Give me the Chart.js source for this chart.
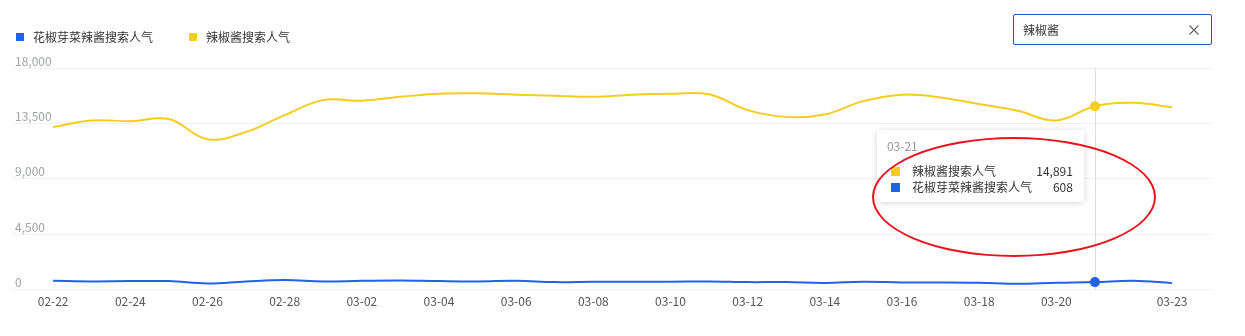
<!DOCTYPE html>
<html>
<head>
<meta charset="utf-8">
<script src="https://cdn.jsdelivr.net/npm/chart.js@4.4.0/dist/chart.umd.min.js"></script>
<style>
  body { margin: 0; background: #fff; font-family: "Microsoft YaHei", "Noto Sans CJK SC", sans-serif; }
  #wrap { position: relative; width: 1245px; height: 336px; overflow: hidden; }
  #trendChart { position: absolute; left: 0; top: 0; }
  .lg { position: absolute; top: 28px; height: 18px; line-height: 18px; font-size: 12px; color: #333; white-space: nowrap; }
  .lg i { position: absolute; left: 0; top: 5px; width: 8px; height: 8px; }
  .lg span { position: absolute; left: 17px; top: 0; }
  .search { position: absolute; left: 1013px; top: 14px; width: 197px; height: 29px; border: 1px solid #2452c8; border-radius: 2px; }
  .search span { position: absolute; left: 9px; top: 6px; font-size: 12px; line-height: 18px; color: #333; }
  .search svg { position: absolute; right: 12px; top: 10px; }
  #tip { position: absolute; display: none; box-sizing: border-box; width: 207px; padding: 8px 11px 7px 10px;
         background: #fff; border-radius: 3px; box-shadow: 0 1px 7px rgba(0, 0, 0, 0.16); font-size: 12px; }
  #tip .tt-title { color: #999; line-height: 16px; margin-bottom: 9px; }
  #tip .tt-row { position: relative; height: 16px; line-height: 16px; color: #333; }
  #tip .tt-row i { position: absolute; left: 4px; top: 4px; width: 9px; height: 9px; }
  #tip .tt-row .tt-name { position: absolute; left: 25px; }
  #tip .tt-row .tt-val { position: absolute; right: 0; }
  #mark { position: absolute; display: none; box-sizing: border-box; width: 284px; height: 120px;
          border: 2px solid #e8141c; border-radius: 50%; pointer-events: none; }
</style>
</head>
<body>
<div id="wrap">
  <canvas id="trendChart" width="1245" height="336"></canvas>
  <div class="lg" style="left:16px"><i style="background:#2162e6"></i><span>花椒芽菜辣酱搜索人气</span></div>
  <div class="lg" style="left:189px"><i style="background:#f5cd1f"></i><span>辣椒酱搜索人气</span></div>
  <div class="search">
    <span>辣椒酱</span>
    <svg width="10" height="10" viewBox="0 0 10 10"><path d="M0.5 0.5 L9.5 9.5 M9.5 0.5 L0.5 9.5" stroke="#666" stroke-width="1.2" fill="none"/></svg>
  </div>
  <div id="tip"></div>
  <div id="mark"></div>
</div>
<script>
var dates = ["02-22", "02-23", "02-24", "02-25", "02-26", "02-27", "02-28", "03-01", "03-02", "03-03",
  "03-04", "03-05", "03-06", "03-07", "03-08", "03-09", "03-10", "03-11", "03-12", "03-13",
  "03-14", "03-15", "03-16", "03-17", "03-18", "03-19", "03-20", "03-21", "03-22", "03-23"];
var shownTicks = ["02-22", "02-24", "02-26", "02-28", "03-02", "03-04", "03-06", "03-08",
  "03-10", "03-12", "03-14", "03-16", "03-18", "03-20", "03-23"];

// 花椒芽菜辣酱搜索人气
var huajiaoValues = [717, 663, 690, 690, 499, 663, 772, 663, 717, 745,
  690, 663, 717, 608, 635, 635, 635, 663, 608, 608,
  540, 635, 580, 580, 553, 472, 553, 608, 717, 526];
// 辣椒酱搜索人气
var lajiaoValues = [13200, 13740, 13680, 13850, 12220, 12810, 14170, 15390, 15340, 15660,
  15910, 15940, 15830, 15740, 15660, 15830, 15910, 15860, 14580, 14030,
  14230, 15310, 15830, 15610, 15070, 14520, 13740, 14891, 15170, 14820];

var seriesNames = ["花椒芽菜辣酱搜索人气", "辣椒酱搜索人气"];
var seriesColors = ["#2162e6", "#f5cd1f"];
var yTicks = [0, 4500, 9000, 13500, 18000];
var activeDate = "03-21";

function toPoints(values) {
  return values.map(function(v, i) { return { x: i, y: v }; });
}

// vertical hover line behind the points
var hoverLine = {
  id: "hoverLine",
  beforeDatasetsDraw: function(chart) {
    var active = chart.getActiveElements();
    if (!active.length) return;
    var x = active[0].element.x;
    var ctx = chart.ctx;
    ctx.save();
    ctx.strokeStyle = "#dedede";
    ctx.lineWidth = 1;
    ctx.beginPath();
    ctx.moveTo(Math.round(x) + 0.5, chart.chartArea.top);
    ctx.lineTo(Math.round(x) + 0.5, chart.chartArea.bottom);
    ctx.stroke();
    ctx.restore();
  }
};

function externalTooltip(context) {
  var tip = document.getElementById("tip");
  var mark = document.getElementById("mark");
  var t = context.tooltip;
  if (t.opacity === 0) {
    tip.style.display = "none";
    mark.style.display = "none";
    return;
  }
  var html = '<div class="tt-title">' + t.title[0] + "</div>";
  t.dataPoints.forEach(function(p) {
    html += '<div class="tt-row"><i style="background:' + seriesColors[p.datasetIndex] + '"></i>' +
      '<span class="tt-name">' + p.dataset.label + '</span>' +
      '<span class="tt-val">' + p.parsed.y.toLocaleString("en-US") + "</span></div>";
  });
  tip.innerHTML = html;
  tip.style.display = "block";
  var area = context.chart.chartArea;
  var left = t.caretX - 11 - tip.offsetWidth;
  var top = area.top + 62;
  tip.style.left = left + "px";
  tip.style.top = top + "px";
  // red ellipse marking the tooltip
  mark.style.display = "block";
  mark.style.left = (left - 5) + "px";
  mark.style.top = (top + 7) + "px";
}

var ctx = document.getElementById("trendChart").getContext("2d");
var chart = new Chart(ctx, {
  type: "line",
  data: {
    datasets: [{
      label: seriesNames[0],
      data: toPoints(huajiaoValues),
      borderColor: seriesColors[0],
      backgroundColor: seriesColors[0],
      borderWidth: 2,
      tension: 0.4,
      pointRadius: 0,
      pointHoverRadius: 5,
      pointHoverBorderWidth: 0,
      pointHoverBackgroundColor: seriesColors[0]
    }, {
      label: seriesNames[1],
      data: toPoints(lajiaoValues),
      borderColor: seriesColors[1],
      backgroundColor: seriesColors[1],
      borderWidth: 2,
      tension: 0.4,
      pointRadius: 0,
      pointHoverRadius: 5,
      pointHoverBorderWidth: 0,
      pointHoverBackgroundColor: seriesColors[1]
    }]
  },
  options: {
    responsive: false,
    animation: false,
    events: [],
    layout: { padding: { left: 13, right: 32, top: 68, bottom: 22 } },
    interaction: { mode: "index", intersect: false },
    scales: {
      x: {
        type: "linear",
        min: -1.04,
        max: dates.length + 0.06,
        grid: { display: false, drawTicks: false },
        border: { display: false },
        afterBuildTicks: function(scale) {
          scale.ticks = shownTicks.map(function(d) { return { value: dates.indexOf(d) }; });
        },
        ticks: {
          padding: 5,
          maxRotation: 0,
          autoSkip: false,
          color: "#555",
          font: { size: 12, family: "'Microsoft YaHei', 'Noto Sans CJK SC', sans-serif" },
          callback: function(value) { return dates[value]; }
        }
      },
      y: {
        min: yTicks[0],
        max: yTicks[yTicks.length - 1],
        afterBuildTicks: function(scale) {
          scale.ticks = yTicks.map(function(v) { return { value: v }; });
        },
        afterFit: function(scale) { scale.width = 0; },
        grid: { color: "#f0f1f6", lineWidth: 1, drawTicks: false },
        border: { display: false },
        ticks: {
          mirror: true,
          padding: 2,
          labelOffset: -7,
          color: "#a0a3a8",
          font: { size: 12, family: "'Microsoft YaHei', 'Noto Sans CJK SC', sans-serif" },
          callback: function(value) { return value.toLocaleString("en-US"); }
        }
      }
    },
    plugins: {
      legend: { display: false },
      tooltip: {
        enabled: false,
        external: externalTooltip,
        itemSort: function(a, b) { return b.parsed.y - a.parsed.y; },
        callbacks: {
          title: function(items) { return dates[items[0].parsed.x]; }
        }
      }
    }
  },
  plugins: [hoverLine]
});

var idx = dates.indexOf(activeDate);
var activeEls = [{ datasetIndex: 1, index: idx }, { datasetIndex: 0, index: idx }];
chart.setActiveElements(activeEls);
var pt = chart.getDatasetMeta(1).data[idx];
chart.tooltip.setActiveElements(activeEls, { x: pt.x, y: pt.y });
chart.update();
</script>
</body>
</html>
